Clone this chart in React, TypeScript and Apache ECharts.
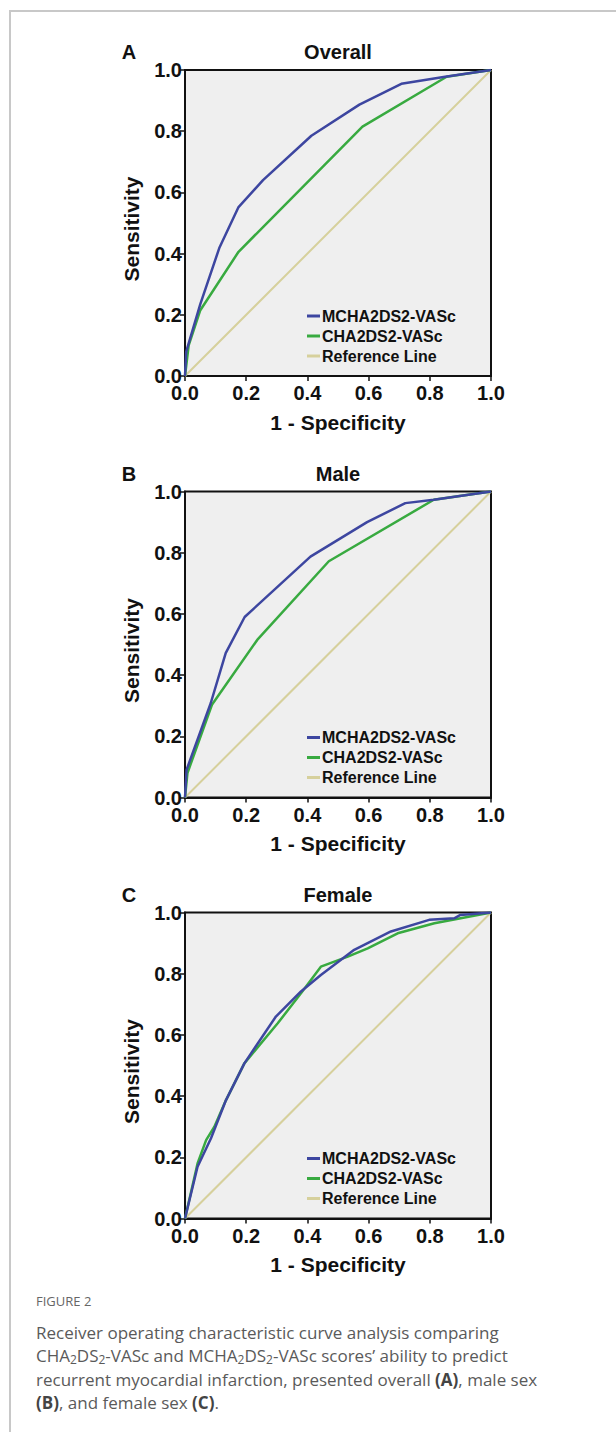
import React, { useEffect, useRef } from "react";
import * as echarts from "echarts";

type Pt = [number, number];

const panelLetters = ["A", "B", "C"];
const panelTitles = ["Overall", "Male", "Female"];
const seriesNames = ["MCHA2DS2-VASc", "CHA2DS2-VASc", "Reference Line"];
const tickValues = [0, 0.2, 0.4, 0.6, 0.8, 1.0];

const overallMCHA: Pt[] = [[0, 0], [0.004, 0.08], [0.05, 0.235], [0.112, 0.418], [0.175, 0.552], [0.255, 0.64], [0.413, 0.785], [0.57, 0.887], [0.707, 0.955], [0.85, 0.978], [1, 1]];
const overallCHA: Pt[] = [[0, 0], [0.012, 0.1], [0.05, 0.215], [0.175, 0.406], [0.58, 0.815], [0.855, 0.978], [1, 1]];
const maleMCHA: Pt[] = [[0, 0], [0.005, 0.09], [0.084, 0.308], [0.133, 0.472], [0.195, 0.59], [0.41, 0.787], [0.595, 0.9], [0.72, 0.962], [0.813, 0.973], [1, 1]];
const maleCHA: Pt[] = [[0, 0], [0.008, 0.08], [0.088, 0.303], [0.236, 0.515], [0.47, 0.772], [0.813, 0.973], [1, 1]];
const femaleMCHA: Pt[] = [[0, 0], [0.041, 0.169], [0.085, 0.262], [0.134, 0.387], [0.194, 0.507], [0.297, 0.66], [0.379, 0.742], [0.444, 0.796], [0.553, 0.878], [0.673, 0.938], [0.798, 0.976], [0.88, 0.981], [0.9, 0.992], [1, 1]];
const femaleCHA: Pt[] = [[0, 0], [0.041, 0.18], [0.069, 0.256], [0.096, 0.3], [0.134, 0.387], [0.194, 0.507], [0.303, 0.638], [0.379, 0.736], [0.444, 0.823], [0.532, 0.856], [0.597, 0.883], [0.695, 0.932], [0.815, 0.965], [1, 1]];
const referenceLine: Pt[] = [[0, 0], [1, 1]];

const panelData: Pt[][][] = [
  [overallMCHA, overallCHA, referenceLine],
  [maleMCHA, maleCHA, referenceLine],
  [femaleMCHA, femaleCHA, referenceLine],
];

const captionHead = "FIGURE 2";
const captionLines = [
  "Receiver operating characteristic curve analysis comparing",
  "CHA{s|2}DS{s|2}-VASc and MCHA{s|2}DS{s|2}-VASc scores’ ability to predict",
  "recurrent myocardial infarction, presented overall {b|(A)}, male sex",
  "{b|(B)}, and female sex {b|(C)}.",
];

const COLORS = ["#3d46a0", "#38aa40", "#d6d09c"];
const WIDTHS = [2.5, 2.5, 2];
const FONT = "'Liberation Sans', Arial, Helvetica, sans-serif";

export default function App() {
  const ref = useRef<HTMLDivElement>(null);
  useEffect(() => {
    if (!ref.current) return;
    const chart = echarts.init(ref.current, undefined, { renderer: "svg" });
    const offsets = [0, 421.5, 842.5];
    const gLeft = 185, gTop = 70, gW = 306, gH = 306;

    const grid: any[] = [];
    const xAxis: any[] = [];
    const yAxis: any[] = [];
    const series: any[] = [];
    const legend: any[] = [];
    const graphic: any[] = [];

    const axisCommon = (isX: boolean) => ({
      type: "value",
      min: tickValues[0],
      max: tickValues[tickValues.length - 1],
      interval: 0.2,
      axisLine: { show: true, onZero: false, lineStyle: { color: "#111", width: 2 } },
      axisTick: { show: true, length: 5, lineStyle: { color: "#111", width: 1.5 } },
      splitLine: { show: false },
      axisLabel: {
        show: true,
        margin: isX ? 7 : 3,
        color: "#111",
        fontSize: 20,
        fontWeight: "bold",
        fontFamily: FONT,
        formatter: (v: number) => v.toFixed(1),
      },
    });

    offsets.forEach((off, i) => {
      grid.push({
        left: gLeft,
        top: gTop + off,
        width: gW,
        height: gH,
        show: true,
        backgroundColor: "#efefef",
        borderColor: "#111",
        borderWidth: 2,
      });
      xAxis.push({ ...axisCommon(true), gridIndex: i });
      yAxis.push({ ...axisCommon(false), gridIndex: i });
      panelData[i].forEach((d, k) => {
        series.push({
          type: "line",
          name: seriesNames[k],
          xAxisIndex: i,
          yAxisIndex: i,
          data: d,
          symbol: "none",
          color: COLORS[k],
          lineStyle: { color: COLORS[k], width: WIDTHS[k] },
          z: 10 - k,
          silent: true,
        });
      });
      legend.push({
        data: seriesNames,
        orient: "vertical",
        left: 307,
        top: 308 + off,
        padding: 0,
        itemGap: 4,
        itemWidth: 13,
        itemHeight: 3,
        icon: "rect",
        selectedMode: false,
        textStyle: { color: "#111", fontSize: 16, fontWeight: "bold", fontFamily: FONT, padding: [0, 0, 0, -3] },
      });
      graphic.push({
        type: "text",
        x: 129,
        y: 52 + off,
        style: { text: panelLetters[i], fill: "#111", font: `bold 20px ${FONT}`, align: "center", verticalAlign: "middle" },
      });
      graphic.push({
        type: "text",
        x: gLeft + gW / 2,
        y: 52 + off,
        style: { text: panelTitles[i], fill: "#111", font: `bold 20px ${FONT}`, align: "center", verticalAlign: "middle" },
      });
      graphic.push({
        type: "text",
        x: 131,
        y: 229 + off,
        rotation: Math.PI / 2,
        style: { text: "Sensitivity", fill: "#111", font: `bold 21px ${FONT}`, align: "center", verticalAlign: "middle" },
      });
      graphic.push({
        type: "text",
        x: gLeft + gW / 2,
        y: 422 + off,
        style: { text: "1 - Specificity", fill: "#111", font: `bold 21px ${FONT}`, align: "center", verticalAlign: "middle" },
      });
    });

    // page border
    graphic.push({ type: "line", shape: { x1: 9, y1: 11, x2: 616, y2: 11 }, style: { stroke: "#c8c8c8", lineWidth: 2 } });
    graphic.push({ type: "line", shape: { x1: 10, y1: 10, x2: 10, y2: 1432 }, style: { stroke: "#c8c8c8", lineWidth: 2 } });

    // caption
    graphic.push({
      type: "text",
      x: 36,
      y: 1301,
      style: { text: captionHead, fill: "#666", font: "13px 'Open Sans', 'Noto Sans', sans-serif", verticalAlign: "middle" },
    });
    const capY = [1332, 1355, 1379, 1402];
    captionLines.forEach((line, j) => {
      graphic.push({
        type: "text",
        x: 36,
        y: capY[j],
        style: {
          text: line,
          fill: "#5a5a5a",
          fontSize: 17,
          fontFamily: "'Open Sans', 'Noto Sans', sans-serif",
          verticalAlign: "middle",
          rich: {
            s: { fontSize: 12, fill: "#5a5a5a", fontFamily: "'Open Sans', 'Noto Sans', sans-serif", padding: [9, 0, 0, 0] },
            b: { fontSize: 17, fontWeight: "bold", fill: "#444", fontFamily: "'Open Sans', 'Noto Sans', sans-serif" },
          },
        },
      });
    });

    chart.setOption({
      animation: false,
      backgroundColor: "#ffffff",
      grid,
      xAxis,
      yAxis,
      series,
      legend,
      graphic,
    });
    return () => chart.dispose();
  }, []);
  return <div ref={ref} style={{ position: "fixed", left: 0, top: 0, width: 616, height: 1432 }} />;
}
